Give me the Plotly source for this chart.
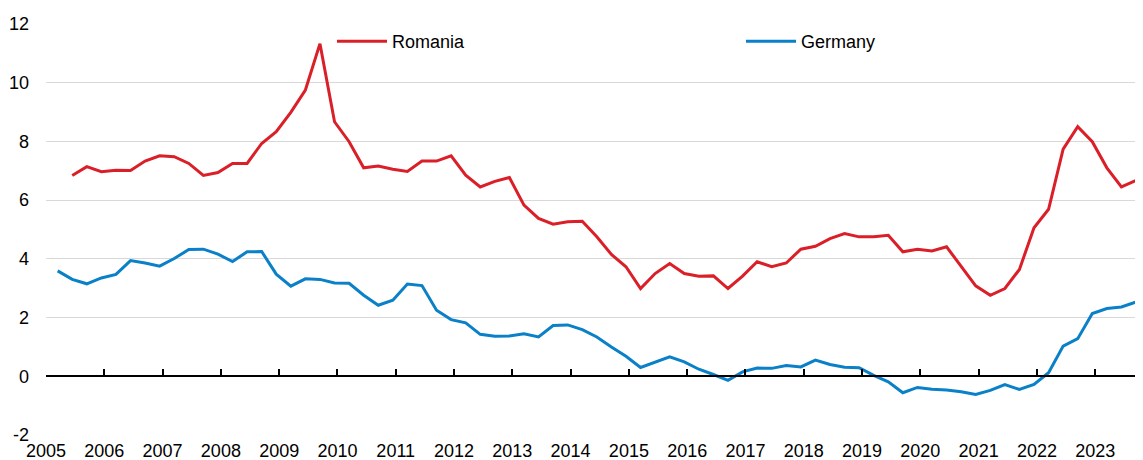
import plotly.graph_objects as go

years = list(range(2005, 2024))
quarters = [f"{y}-Q{q}" for y in years for q in range(1, 5)]

romania = [None, 6.84, 7.14, 6.97, 7.02, 7.01, 7.33, 7.51, 7.48, 7.25, 6.84, 6.94,
           7.25, 7.25, 7.93, 8.33, 8.99, 9.75, 11.33, 8.67, 7.99, 7.10, 7.16, 7.05,
           6.98, 7.33, 7.33, 7.51, 6.85, 6.45, 6.64, 6.77, 5.83, 5.38, 5.18, 5.26,
           5.28, 4.75, 4.15, 3.73, 2.99, 3.50, 3.84, 3.50, 3.41, 3.42, 2.99, 3.41,
           3.90, 3.73, 3.86, 4.33, 4.43, 4.69, 4.86, 4.75, 4.75, 4.80, 4.24, 4.33,
           4.27, 4.41, 3.73, 3.08, 2.76, 2.99, 3.64, 5.06, 5.69, 7.74, 8.50, 7.99,
           7.10, 6.45, 6.67, 6.55]

germany = [3.59, 3.30, 3.15, 3.35, 3.47, 3.94, 3.86, 3.75, 4.01, 4.32, 4.33, 4.16,
           3.91, 4.24, 4.25, 3.48, 3.07, 3.32, 3.30, 3.18, 3.17, 2.76, 2.42, 2.59,
           3.14, 3.09, 2.25, 1.93, 1.82, 1.43, 1.36, 1.37, 1.45, 1.34, 1.73, 1.75,
           1.59, 1.34, 1.00, 0.68, 0.30, 0.49, 0.66, 0.49, 0.24, 0.06, -0.14, 0.15,
           0.28, 0.27, 0.37, 0.32, 0.55, 0.40, 0.31, 0.29, 0.03, -0.19, -0.56, -0.38,
           -0.44, -0.47, -0.53, -0.62, -0.48, -0.28, -0.45, -0.28, 0.12, 1.03, 1.28, 2.14,
           2.31, 2.36, 2.53, 2.52]

y_ticks = [-2, 0, 2, 4, 6, 8, 10, 12]
y_tick_labels = ["-2", "0", "2", "4", "6", "8", "10", "12"]
x_tick_labels = [str(y) for y in years]


def q_to_x(label):
    y, q = label.split("-Q")
    return int(y) + 0.2 + 0.25 * (int(q) - 1)


x = [q_to_x(q) for q in quarters]

FONT = "Liberation Sans, Arial, sans-serif"
FS = 18
TXT = "#000000"
RED = "#DA1F28"
BLUE = "#0980C8"
# the page body adds an 8px offset; size the figure so the plot fills the window
ML, MR, MT, MB = 38, 0, 16, 25
W, H = 1135, 452
PW = W - ML - MR

fig = go.Figure()
fig.add_trace(go.Scatter(x=x, y=romania, mode="lines", name="Romania",
                         line=dict(color=RED, width=3)))
fig.add_trace(go.Scatter(x=x, y=germany, mode="lines", name="Germany",
                         line=dict(color=BLUE, width=3)))
# carrier trace so the zero-line axis (x2) gets drawn
fig.add_trace(go.Scatter(x=x, y=[None] * len(x), xaxis="x2", yaxis="y",
                         mode="lines", showlegend=False, hoverinfo="skip"))

xr = [2005, 2023.82]
fig.update_layout(
    width=W, height=H,
    margin=dict(l=ML, r=MR, t=MT, b=MB, autoexpand=False),
    paper_bgcolor="white", plot_bgcolor="white",
    font=dict(family=FONT, size=FS, color=TXT),
    showlegend=True,
    legend=dict(orientation="h", x=286 / PW, xanchor="left",
                y=0.957, yanchor="middle", entrywidth=344, entrywidthmode="pixels",
                itemwidth=50,
                font=dict(family=FONT, size=FS, color=TXT),
                bgcolor="rgba(0,0,0,0)", borderwidth=0),
    xaxis=dict(range=xr, tickvals=years, ticktext=x_tick_labels, showgrid=False,
               zeroline=False, showline=False, ticks="", ticklabelstandoff=3,
               automargin=False,
               tickfont=dict(family=FONT, size=FS, color=TXT)),
    xaxis2=dict(range=xr, overlaying="x", anchor="free", position=2 / 14, side="bottom",
                tickvals=years, showticklabels=False, ticks="inside", ticklen=6,
                tickwidth=1.5, tickcolor="black", showline=True, linecolor="black",
                linewidth=1.8, showgrid=False, zeroline=False, automargin=False),
    yaxis=dict(range=[-2, 12], tickvals=y_ticks, ticktext=y_tick_labels,
               showgrid=True, gridcolor="#d9d9d9",
               gridwidth=1.3, zeroline=False, showline=False, ticks="",
               ticklabelstandoff=16, automargin=False,
               tickfont=dict(family=FONT, size=FS, color=TXT)),
)

fig.write_html("out.html")
